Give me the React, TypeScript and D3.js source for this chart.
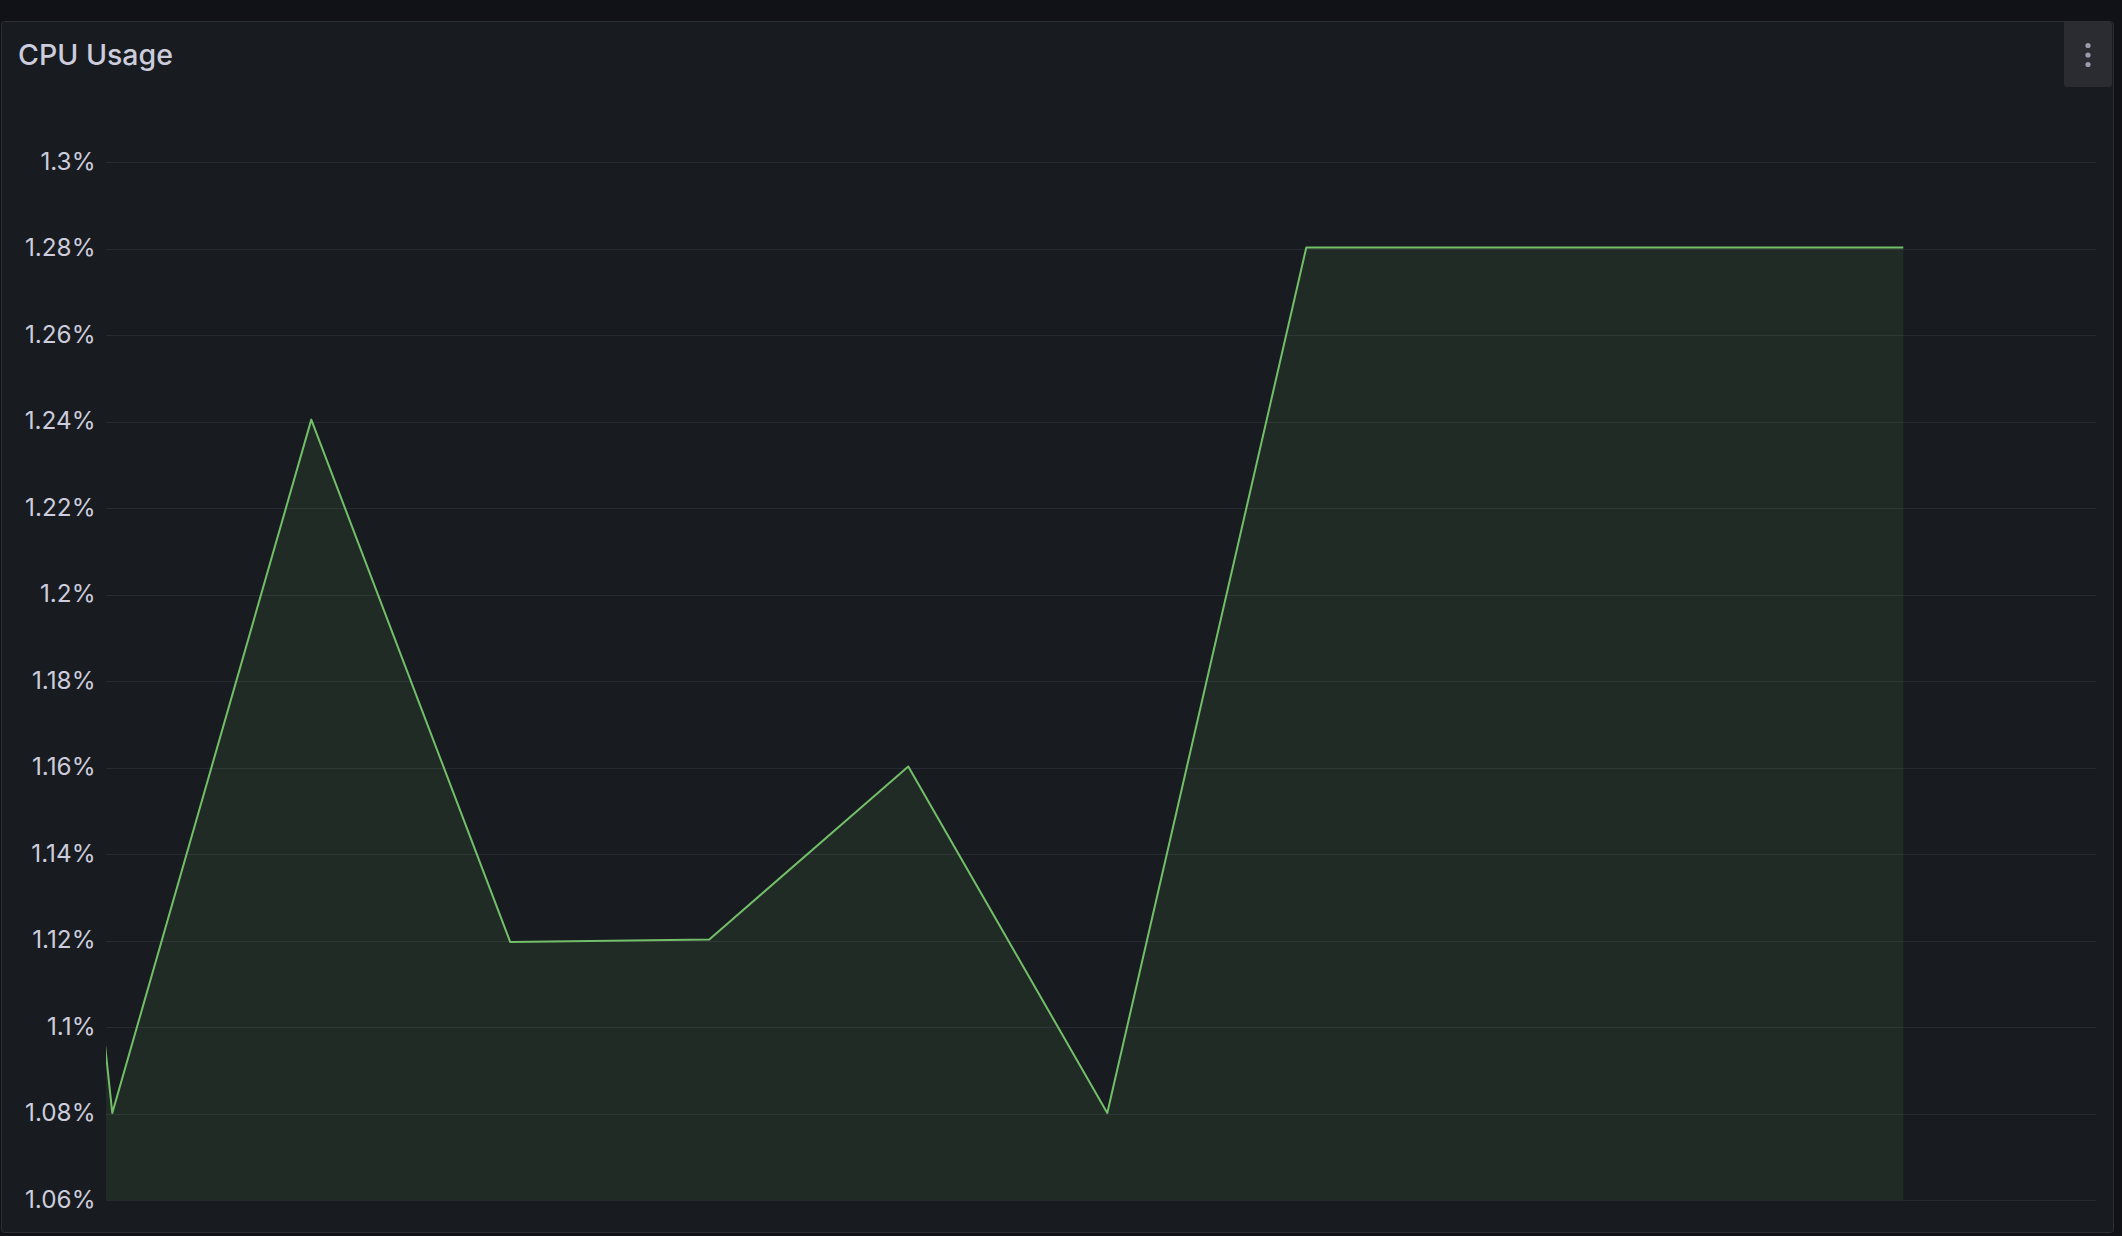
import { useEffect, useRef } from "react"
import * as d3 from "d3"

// minutes since window start; point 0 lies just left of the visible range and is clipped
const times = [0, 1, 2, 3, 4, 5, 6, 7, 8, 9, 10]
const cpu = [1.51, 1.0802, 1.2405, 1.1197, 1.1203, 1.1603, 1.0802, 1.2803, 1.2803, 1.2803, 1.2803]
const yTicks = [1.06, 1.08, 1.1, 1.12, 1.14, 1.16, 1.18, 1.2, 1.22, 1.24, 1.26, 1.28, 1.3]
const xDomain: [number, number] = [0.9684, 10.9684]
const title = "CPU Usage"

const C = { page: "#111217", panel: "#181b1f", border: "#2b2e34", text: "#ccccdc", grid: "rgba(204,204,220,0.09)", green: "#73bf69", btn: "#2a2c32", dot: "#9a9cab" }

export default function App() {
  const ref = useRef<SVGSVGElement>(null)
  useEffect(() => {
    document.body.style.margin = "0"
    document.body.style.background = C.page
    if (!ref.current) return
    const Wd = 2122, Ht = 1236
    const svg = d3.select(ref.current)
    svg.selectAll("*").remove()
    const font = "Inter, 'Noto Sans', sans-serif"

    svg.append("rect").attr("width", Wd).attr("height", Ht).attr("fill", C.page)
    svg.append("rect").attr("x", 1.5).attr("y", 21.5).attr("width", 2112).attr("height", 1211).attr("rx", 3)
      .attr("fill", C.panel).attr("stroke", C.border)

    // header
    svg.append("text").attr("x", 18).attr("y", 65).style("font-family", font).style("font-size", "28.5px")
      .style("font-weight", 500).style("fill", C.text).text(title)
    svg.append("path").attr("d", "M2064,22 H2109 a3,3 0 0 1 3,3 V84 a3,3 0 0 1 -3,3 H2067 a3,3 0 0 1 -3,-3 Z").attr("fill", C.btn)
    ;[45.5, 55, 64.5].forEach(cy => svg.append("circle").attr("cx", 2088).attr("cy", cy).attr("r", 2.6).attr("fill", C.dot))

    const m = { left: 106, right: 2096, top: 162.3, bottom: 1200.3 }
    const x = d3.scaleLinear().domain(xDomain).range([m.left, m.right])
    const y = d3.scaleLinear().domain([1.06, 1.3]).range([m.bottom, m.top])

    const g = svg.append("g")
    g.selectAll("line.grid").data(yTicks).join("line").attr("class", "grid")
      .attr("x1", m.left).attr("x2", m.right).attr("y1", d => Math.round(y(d)) + 0.5).attr("y2", d => Math.round(y(d)) + 0.5)
      .attr("stroke", C.grid).attr("stroke-width", 1)
    g.selectAll("text.tick").data(yTicks).join("text").attr("class", "tick")
      .attr("x", 95.5).attr("y", d => y(d) + 7.5).attr("text-anchor", "end")
      .style("font-family", font).style("font-size", "24.3px").style("fill", C.text)
      .text(d => `${+d.toFixed(2)}%`)

    svg.append("clipPath").attr("id", "plot").append("rect")
      .attr("x", m.left).attr("y", m.top - 10).attr("width", m.right - m.left).attr("height", m.bottom - m.top + 10)
    const data = times.map((t, i) => [t, cpu[i]] as [number, number])
    const area = d3.area<[number, number]>().x(d => x(d[0])).y0(m.bottom).y1(d => y(d[1]))
    const line = d3.line<[number, number]>().x(d => x(d[0])).y(d => y(d[1]))
    const pg = svg.append("g").attr("clip-path", "url(#plot)")
    pg.append("path").datum(data).attr("d", area).attr("fill", C.green).attr("fill-opacity", 0.1)
    pg.append("path").datum(data).attr("d", line).attr("fill", "none").attr("stroke", C.green)
      .attr("stroke-width", 2).attr("stroke-linejoin", "round")
  }, [])
  return <svg ref={ref} width={2122} height={1236} style={{ display: "block" }} />
}
